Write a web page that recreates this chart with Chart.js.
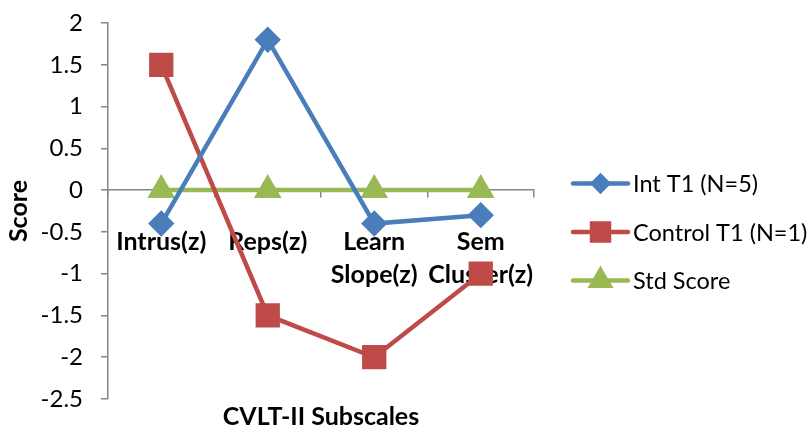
<!DOCTYPE html>
<html>
<head>
<meta charset="utf-8">
<script src="https://cdn.jsdelivr.net/npm/chart.js@4/dist/chart.umd.min.js"></script>
<style>
  html, body { margin: 0; padding: 0; background: #fff; }
  #wrap { width: 810px; height: 432px; }
</style>
</head>
<body>
<div id="wrap"><canvas id="chart"></canvas></div>
<script>
const categories = ['Intrus(z)', 'Reps(z)', ['Learn', 'Slope(z)'], ['Sem', 'Cluster(z)']];
const intT1 = [-0.4, 1.8, -0.4, -0.3];
const controlT1 = [1.5, -1.5, -2, -1];
const stdScore = [0, 0, 0, 0];
const yMin = -2.5, yMax = 2, yStep = 0.5;

const FONT = 'Lato, "Open Sans", sans-serif';
const AXIS_GRAY = '#868686';

// legend drawn by hand: line sample with marker, then the label
const sideLegend = {
  id: 'sideLegend',
  afterDraw(chart) {
    const ctx = chart.ctx;
    const area = chart.chartArea;
    const midY = (area.top + area.bottom) / 2 + 21;
    const rowGap = 48.5;
    const n = chart.data.datasets.length;
    const x0 = area.right + 39, x1 = x0 + 55;
    chart.data.datasets.forEach((ds, i) => {
      const y = midY + (i - (n - 1) / 2) * rowGap;
      ctx.save();
      ctx.strokeStyle = ds.borderColor;
      ctx.lineWidth = ds.borderWidth;
      ctx.lineCap = 'round';
      ctx.beginPath();
      ctx.moveTo(x0, y);
      ctx.lineTo(x1, y);
      ctx.stroke();
      ctx.fillStyle = ds.pointBackgroundColor;
      ctx.strokeStyle = ds.pointBorderColor;
      Chart.helpers.drawPoint(ctx, {
        pointStyle: ds.pointStyle,
        radius: ds.legendRadius,
        borderWidth: 1,
        rotation: 0
      }, (x0 + x1) / 2, y);
      ctx.fillStyle = '#000';
      ctx.font = '23.5px ' + FONT;
      ctx.textAlign = 'left';
      ctx.textBaseline = 'middle';
      ctx.fillText(ds.label, x1 + 5, y + 1);
      ctx.restore();
    });
  }
};

new Chart(document.getElementById('chart'), {
  type: 'line',
  data: {
    labels: categories,
    datasets: [
      {
        label: 'Int T1 (N=5)',
        data: intT1,
        borderColor: '#4A7EBB',
        backgroundColor: '#4A7EBB',
        pointBackgroundColor: '#4A7EBB',
        pointBorderColor: '#4A7EBB',
        borderWidth: 4.5,
        pointStyle: 'rectRot',
        pointRadius: 10,
        legendRadius: 7.5,
        tension: 0
      },
      {
        label: 'Control T1 (N=1)',
        data: controlT1,
        borderColor: '#BE4B48',
        backgroundColor: '#BE4B48',
        pointBackgroundColor: '#BE4B48',
        pointBorderColor: '#BE4B48',
        borderWidth: 4.5,
        pointStyle: 'rect',
        pointRadius: 14,
        legendRadius: 12,
        tension: 0
      },
      {
        label: 'Std Score',
        data: stdScore,
        borderColor: '#98B954',
        backgroundColor: '#98B954',
        pointBackgroundColor: '#98B954',
        pointBorderColor: '#98B954',
        borderWidth: 4.5,
        pointStyle: 'triangle',
        pointRadius: 11.5,
        legendRadius: 10.5,
        tension: 0
      }
    ]
  },
  options: {
    responsive: true,
    maintainAspectRatio: false,
    animation: false,
    layout: { padding: { top: 23, right: 276, bottom: 0, left: 0 } },
    plugins: {
      tooltip: { enabled: false },
      legend: { display: false }
    },
    scales: {
      x: {
        type: 'category',
        position: { y: 0 },
        offset: true,
        grid: {
          display: true,
          offset: true,
          drawOnChartArea: false,
          drawTicks: true,
          tickLength: 7,
          color: AXIS_GRAY,
          lineWidth: 1.5
        },
        border: { display: true, color: AXIS_GRAY, width: 1.5 },
        ticks: { display: false }
      },
      xl: {
        type: 'category',
        labels: categories,
        position: { y: 0 },
        offset: true,
        z: 1,
        grid: { display: false, drawTicks: false },
        border: { display: false },
        ticks: {
          display: true,
          autoSkip: false,
          maxRotation: 0,
          padding: 35,
          color: '#000',
          font: { family: FONT, size: 25, weight: 'bold', lineHeight: 1.32 }
        }
      },
      xt: {
        type: 'category',
        labels: [''],
        position: 'bottom',
        grid: { display: false, drawTicks: false },
        border: { display: false },
        ticks: { display: false },
        title: {
          display: true,
          text: 'CVLT-II Subscales',
          color: '#000',
          padding: { top: 4, bottom: 0 },
          font: { family: FONT, size: 25, weight: 'bold' }
        },
        afterFit(scale) { scale.height = 33; }
      },
      y: {
        type: 'linear',
        position: 'left',
        min: yMin,
        max: yMax,
        ticks: {
          stepSize: yStep,
          padding: 18,
          color: '#000',
          font: { family: FONT, size: 24 },
          callback: v => String(Math.round(v * 10) / 10)
        },
        grid: {
          display: true,
          drawOnChartArea: false,
          drawTicks: true,
          tickLength: 7,
          color: AXIS_GRAY,
          lineWidth: 1.5
        },
        border: { display: true, color: AXIS_GRAY, width: 1.5 },
        title: {
          display: true,
          text: 'Score',
          color: '#000',
          padding: { top: 4, bottom: 0 },
          font: { family: FONT, size: 25, weight: 'bold' }
        },
        afterFit(scale) {
          scale.width = 108;
          scale.paddingTop = 0;
          scale.paddingBottom = 0;
        }
      }
    }
  },
  plugins: [sideLegend]
});
</script>
</body>
</html>
